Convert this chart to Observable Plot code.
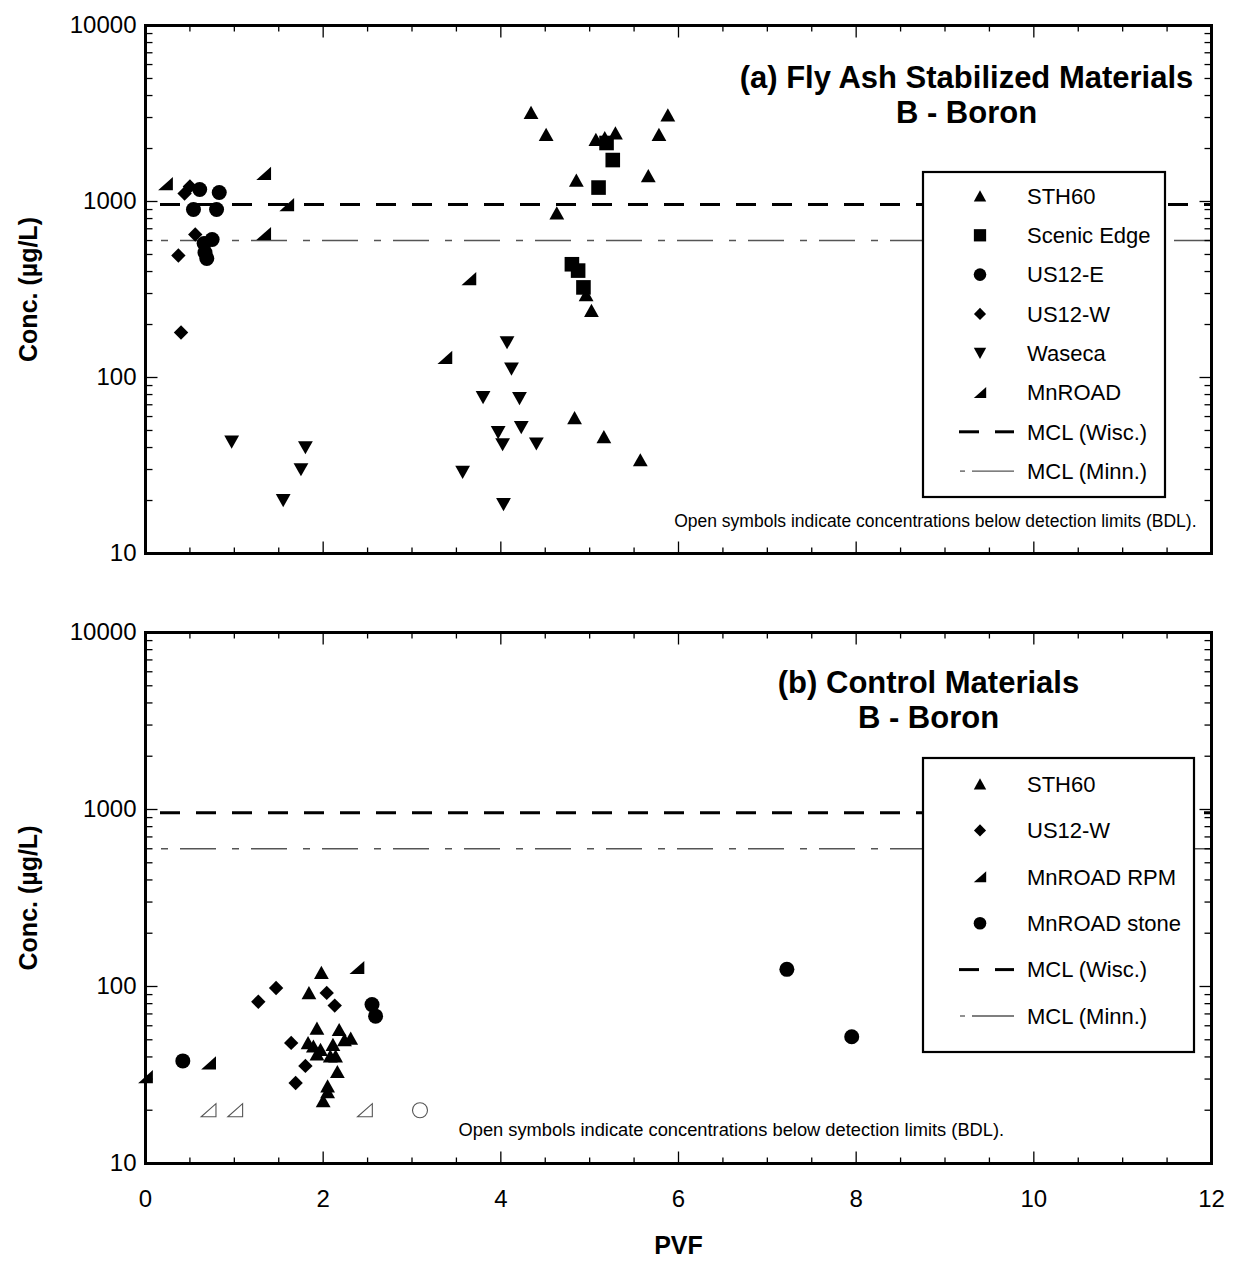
<!DOCTYPE html>
<html><head><meta charset="utf-8">
<script src="https://cdn.jsdelivr.net/npm/d3@7"></script>
<script src="https://cdn.jsdelivr.net/npm/@observablehq/plot@0.6"></script>
<style>
body{margin:0;background:#fff;}
#wrap{position:relative;width:1236px;height:1266px;background:#fff;}
#wrap > svg{position:absolute;left:0;}
</style></head><body><div id="wrap"></div>
<script>
// ---------- DATA ----------
const mclWisc = 960;   // µg/L
const mclMinn = 600;   // µg/L
const xTickLabels = [0, 2, 4, 6, 8, 10, 12];
const yTickLabels = [10, 100, 1000, 10000];
const noteText = "Open symbols indicate concentrations below detection limits (BDL).";

// (a) Fly Ash Stabilized Materials
const aSth60X = [4.34, 4.51, 4.63, 4.85, 5.07, 5.17, 5.29, 5.66, 5.78, 5.88, 4.96, 5.02, 4.83, 5.16, 5.57];
const aSth60Y = [3200, 2400, 860, 1320, 2250, 2300, 2450, 1400, 2400, 3100, 295, 240, 59, 46, 34];
const aScenicX = [5.19, 5.26, 5.10, 4.80, 4.87, 4.93];
const aScenicY = [2150, 1720, 1200, 440, 405, 325];
const aUs12eX = [0.61, 0.83, 0.54, 0.80, 0.75, 0.66, 0.67, 0.69];
const aUs12eY = [1170, 1125, 900, 900, 608, 577, 513, 474];
const aUs12wX = [0.50, 0.44, 0.56, 0.37, 0.40];
const aUs12wY = [1217, 1110, 650, 493, 180];
const aWasecaX = [0.97, 1.80, 1.75, 1.55, 4.07, 4.12, 3.80, 4.21, 3.97, 4.23, 4.02, 4.40, 3.57, 4.03];
const aWasecaY = [43, 40, 30, 20, 158, 112, 77, 76, 48.7, 52, 41.6, 42, 29, 19];
const aMnroadX = [0.225, 1.33, 1.59, 1.33, 3.64, 3.37];
const aMnroadY = [1265, 1443, 961, 658, 365, 130];

// (b) Control Materials
const bSth60X = [1.98, 1.84, 1.93, 2.18, 1.83, 1.89, 1.97, 1.93, 2.11, 2.24, 2.31, 2.08, 2.14, 2.16, 2.05, 2.05, 2.00];
const bSth60Y = [120, 92, 58, 57, 48, 46, 44, 41.5, 47, 50, 51, 40.5, 40.5, 33, 27.4, 25.4, 22.6];
const bUs12wX = [1.27, 1.47, 2.04, 2.13, 1.64, 1.80, 1.69];
const bUs12wY = [82, 98, 92, 78, 48, 35.6, 28.5];
const bRpmX = [0, 0.71, 2.38];
const bRpmY = [31, 37, 128];
const bRpmBdlX = [0.71, 1.01, 2.47];
const bRpmBdlY = [20, 20, 20];
const bStoneX = [0.42, 2.55, 2.59, 7.22, 7.95];
const bStoneY = [38, 79, 68, 125, 52];
const bStoneBdlX = [3.09];
const bStoneBdlY = [20];

// ---------- SYMBOLS ----------
function poly(pts) {
  return {draw(ctx, size) {
    const k = Math.sqrt(size / Math.PI) / 7.5;
    ctx.moveTo(pts[0][0] * k, pts[0][1] * k);
    for (let i = 1; i < pts.length; i++) ctx.lineTo(pts[i][0] * k, pts[i][1] * k);
    ctx.closePath();
  }};
}
const symTriUp = poly([[0, -6.8], [7.4, 6.4], [-7.4, 6.4]]);
const symTriDown = poly([[0, 6.8], [7.4, -6.4], [-7.4, -6.4]]);
const symSquare = poly([[-7.3, -7.3], [7.3, -7.3], [7.3, 7.3], [-7.3, 7.3]]);
const symDiamond = poly([[0, -7.2], [7.2, 0], [0, 7.2], [-7.2, 0]]);
const symHalf = poly([[-7.4, 6.6], [7.4, 6.6], [7.4, -6.6]]);
const symCircle = {draw(ctx, size) { const r = Math.sqrt(size / Math.PI); ctx.moveTo(r, 0); ctx.arc(0, 0, r, 0, 2 * Math.PI); }};
function tickSym(dx, dy) { return {draw(ctx) { ctx.moveTo(0, 0); ctx.lineTo(dx, dy); }}; }

const FONT = "Arial, 'Liberation Sans', Helvetica, sans-serif";

function minorY() {
  const out = [];
  for (const d of [10, 100, 1000]) for (let m = 2; m <= 9; m++) out.push(d * m);
  return out;
}
function minorX() {
  const out = [];
  for (let v = 0.5; v < 12; v += 0.5) if (v % 2 !== 0) out.push(v);
  return out;
}

function seriesMarks(list) {
  return list.map(s => Plot.dot(d3.range(s.x.length), {
    x: i => s.x[i], y: i => s.y[i], symbol: s.sym, r: 7.5,
    fill: s.open ? "white" : "black",
    stroke: s.open ? "#555" : "none", strokeWidth: 1.1
  }));
}

function tickMarks() {
  const L = 12, l = 7, XL = 12, xl = 6;
  const m = [];
  const st = {fill: "none", stroke: "black", strokeWidth: 1.3};
  m.push(Plot.dot(yTickLabels, {y: d => d, frameAnchor: "left", symbol: tickSym(L, 0), ...st}));
  m.push(Plot.dot(minorY(), {y: d => d, frameAnchor: "left", symbol: tickSym(l, 0), ...st}));
  m.push(Plot.dot(yTickLabels, {y: d => d, frameAnchor: "right", symbol: tickSym(-L, 0), ...st}));
  m.push(Plot.dot(minorY(), {y: d => d, frameAnchor: "right", symbol: tickSym(-l, 0), ...st}));
  m.push(Plot.dot(xTickLabels, {x: d => d, frameAnchor: "bottom", symbol: tickSym(0, -XL), ...st}));
  m.push(Plot.dot(minorX(), {x: d => d, frameAnchor: "bottom", symbol: tickSym(0, -xl), ...st}));
  m.push(Plot.dot(xTickLabels, {x: d => d, frameAnchor: "top", symbol: tickSym(0, XL), ...st}));
  m.push(Plot.dot(minorX(), {x: d => d, frameAnchor: "top", symbol: tickSym(0, xl), ...st}));
  return m;
}

function drawLegend(svg, box, entries, offsetY) {
  const g = d3.select(svg).append("g");
  g.append("rect").attr("x", box.x).attr("y", box.y - offsetY).attr("width", box.w).attr("height", box.h)
    .attr("fill", "white").attr("stroke", "black").attr("stroke-width", 2.2);
  entries.forEach((e, i) => {
    const cy = box.first + i * box.step - offsetY;
    if (e.sym) {
      const p = d3.path();
      e.sym.draw(p, Math.PI * 6.3 * 6.3);
      g.append("path").attr("d", p.toString()).attr("transform", `translate(${box.symX},${cy})`).attr("fill", "black");
    } else if (e.line === "wisc") {
      g.append("line").attr("x1", box.symX - 21).attr("x2", box.symX - 1).attr("y1", cy).attr("y2", cy).attr("stroke", "black").attr("stroke-width", 3);
      g.append("line").attr("x1", box.symX + 15).attr("x2", box.symX + 34).attr("y1", cy).attr("y2", cy).attr("stroke", "black").attr("stroke-width", 3);
    } else {
      g.append("line").attr("x1", box.symX - 20).attr("x2", box.symX - 15).attr("y1", cy).attr("y2", cy).attr("stroke", "#555").attr("stroke-width", 1.3);
      g.append("line").attr("x1", box.symX - 8).attr("x2", box.symX + 34).attr("y1", cy).attr("y2", cy).attr("stroke", "#555").attr("stroke-width", 1.3);
    }
    g.append("text").attr("x", box.textX).attr("y", cy).attr("dy", "0.35em")
      .attr("text-anchor", "start")
      .attr("font-family", FONT).attr("font-size", 22).attr("fill", "black").text(e.name);
  });
}

function panel(o) {
  const marks = [
    Plot.ruleY([mclWisc], {stroke: "black", strokeWidth: 3, strokeDasharray: "20,16", strokeDashoffset: 21}),
    Plot.ruleY([mclMinn], {stroke: "#555", strokeWidth: 1.4, strokeDasharray: "36,16,7,12", strokeDashoffset: 36}),
    ...seriesMarks(o.series),
    ...tickMarks(),
    Plot.frame({stroke: "black", strokeWidth: 3}),
    Plot.axisY({ticks: yTickLabels, tickFormat: d => String(d), tickSize: 0, tickPadding: 9, label: null, fontSize: 24}),
    Plot.text(["Conc. (µg/L)"], {frameAnchor: "left", dx: -117, rotate: -90, fontWeight: "bold", fontSize: 25, textAnchor: "middle", lineAnchor: "middle"}),
    Plot.text([o.title1], {frameAnchor: "top-right", dx: o.titleDx, dy: o.titleDy, textAnchor: "middle", lineAnchor: "middle", fontWeight: "bold", fontSize: 31}),
    Plot.text([o.title2], {frameAnchor: "top-right", dx: o.titleDx, dy: o.titleDy + 35, textAnchor: "middle", lineAnchor: "middle", fontWeight: "bold", fontSize: 31}),
    Plot.text([noteText], o.noteOpts)
  ];
  if (o.showX) {
    marks.push(Plot.axisX({ticks: xTickLabels, tickSize: 0, tickPadding: 26, label: null, fontSize: 24}));
    marks.push(Plot.text(["PVF"], {frameAnchor: "bottom", dy: 82, fontWeight: "bold", fontSize: 25, lineAnchor: "middle"}));
  }
  const svg = Plot.plot({
    width: 1236, height: o.height,
    marginLeft: 145, marginRight: 25, marginTop: o.mt, marginBottom: o.mb,
    x: {domain: [0, 12], axis: null},
    y: {type: "log", domain: [10, 10000], axis: null},
    style: {fontFamily: FONT, fontSize: "24px", background: "transparent", overflow: "visible", color: "black"},
    marks
  });
  svg.style.top = o.offset + "px";
  return svg;
}

const wrap = document.getElementById("wrap");

const svgA = panel({
  offset: 0, height: 590, mt: 25, mb: 37,
  series: [
    {x: aSth60X, y: aSth60Y, sym: symTriUp},
    {x: aScenicX, y: aScenicY, sym: symSquare},
    {x: aUs12eX, y: aUs12eY, sym: symCircle},
    {x: aUs12wX, y: aUs12wY, sym: symDiamond},
    {x: aWasecaX, y: aWasecaY, sym: symTriDown},
    {x: aMnroadX, y: aMnroadY, sym: symHalf}
  ],
  title1: "(a) Fly Ash Stabilized Materials", title2: "B - Boron", titleDx: -245, titleDy: 53,
  noteOpts: {frameAnchor: "bottom-right", dx: -15, dy: -32, textAnchor: "end", lineAnchor: "middle", fontSize: 17.5},
  showX: false
});
wrap.appendChild(svgA);
drawLegend(svgA, {x: 923, y: 172, w: 242, h: 325, first: 196, step: 39.3, symX: 980, textX: 1027}, [
  {name: "STH60", sym: symTriUp}, {name: "Scenic Edge", sym: symSquare}, {name: "US12-E", sym: symCircle},
  {name: "US12-W", sym: symDiamond}, {name: "Waseca", sym: symTriDown}, {name: "MnROAD", sym: symHalf},
  {name: "MCL (Wisc.)", line: "wisc"}, {name: "MCL (Minn.)", line: "minn"}
], 0);

const svgB = panel({
  offset: 590, height: 676, mt: 42, mb: 103,
  series: [
    {x: bSth60X, y: bSth60Y, sym: symTriUp},
    {x: bUs12wX, y: bUs12wY, sym: symDiamond},
    {x: bRpmX, y: bRpmY, sym: symHalf},
    {x: bRpmBdlX, y: bRpmBdlY, sym: symHalf, open: true},
    {x: bStoneX, y: bStoneY, sym: symCircle},
    {x: bStoneBdlX, y: bStoneBdlY, sym: symCircle, open: true}
  ],
  title1: "(b) Control Materials", title2: "B - Boron", titleDx: -283, titleDy: 51,
  noteOpts: {frameAnchor: "bottom-left", dx: 313, dy: -33, textAnchor: "start", lineAnchor: "middle", fontSize: 18.3},
  showX: true
});
wrap.appendChild(svgB);
drawLegend(svgB, {x: 923, y: 758, w: 271, h: 294, first: 784, step: 46.4, symX: 980, textX: 1027}, [
  {name: "STH60", sym: symTriUp}, {name: "US12-W", sym: symDiamond}, {name: "MnROAD RPM", sym: symHalf},
  {name: "MnROAD stone", sym: symCircle}, {name: "MCL (Wisc.)", line: "wisc"}, {name: "MCL (Minn.)", line: "minn"}
], 590);
</script></body></html>
